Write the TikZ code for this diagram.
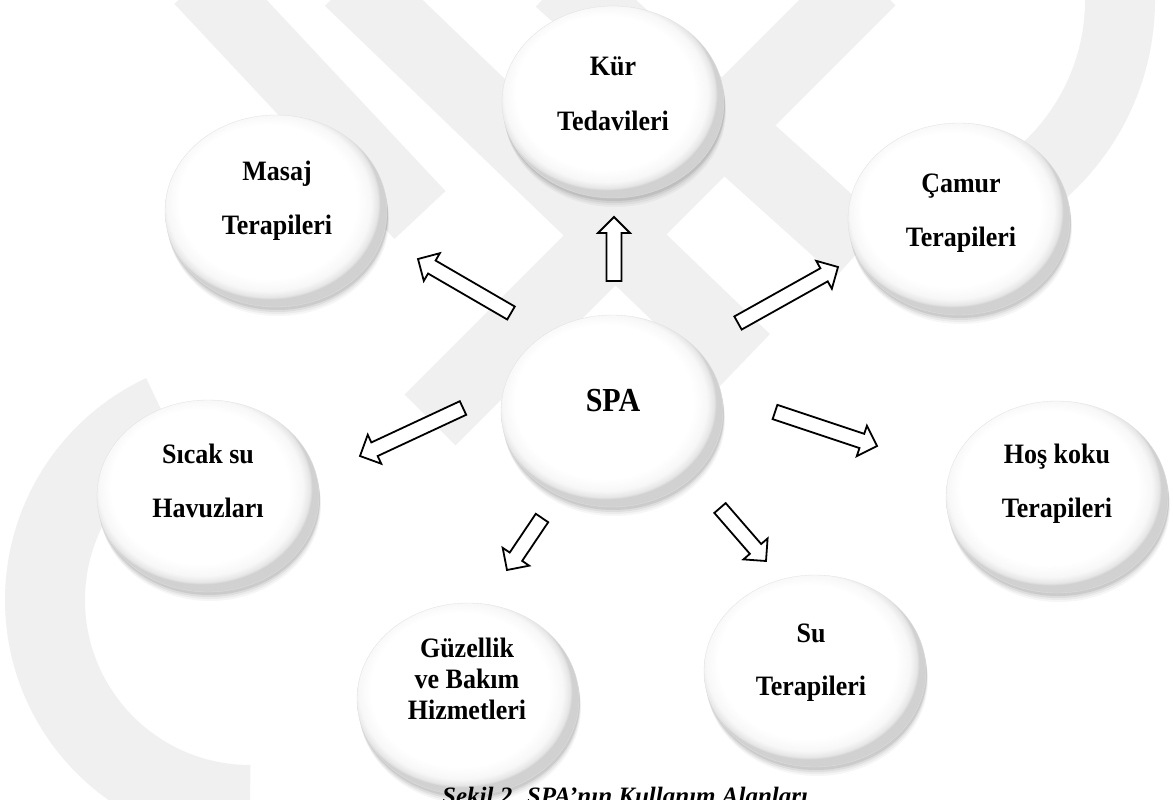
\documentclass[tikz,border=0pt]{standalone}
\usepackage{fontspec}
\setmainfont{Liberation Serif}
\usetikzlibrary{shapes.geometric,shadows,calc}
\pgfdeclareradialshading{btn}{\pgfpoint{-3bp}{4bp}}{color(0bp)=(white); color(20bp)=(white); color(23bp)=(black!3); color(24.5bp)=(black!10); color(25bp)=(black!18); color(50bp)=(black!18)}
\tikzset{
  wm/.style={draw=black!6, line cap=butt},
  bubble/.style={ellipse, minimum width=222pt, minimum height=192pt, inner sep=0pt,
    shading=btn, draw=black!12, line width=0.3pt,
    drop shadow={shadow xshift=2pt, shadow yshift=-9pt, opacity=.035, shadow scale=1.0, fill=black},
    drop shadow={shadow xshift=1.5pt, shadow yshift=-7pt, opacity=.045, fill=black},
    drop shadow={shadow xshift=1pt, shadow yshift=-5pt, opacity=.06, fill=black},
    drop shadow={shadow xshift=1pt, shadow yshift=-3pt, opacity=.08, fill=black}},
  lbl/.style={font=\fontsize{26}{26}\selectfont\bfseries, anchor=base, inner sep=0pt},
  barrow/.style={draw=black, line width=1.8pt, fill=white, line join=miter},
  captxt/.style={font=\fontsize{25}{25}\selectfont\bfseries\itshape, anchor=base west, inner sep=0pt}
}
\newcommand\vs[1]{\scalebox{1}[1.08]{#1}}
\newcommand\blockarr[2]{%
  \path ($(#2)!16pt!(#1)$) coordinate (hb);
  \draw[barrow] ($(#1)!7.5pt!90:(#2)$) -- ($(hb)!7.5pt!90:(#2)$) -- ($(hb)!16pt!90:(#2)$) -- (#2)
     -- ($(hb)!16pt!-90:(#2)$) -- ($(hb)!7.5pt!-90:(#2)$) -- ($(#1)!7.5pt!-90:(#2)$) -- cycle;}
\begin{document}
\begin{tikzpicture}[x=1pt,y=-1pt]
\useasboundingbox (0,0) rectangle (1173,800);
\clip (0,0) rectangle (1173,800);
\fill[white] (0,0) rectangle (1173,800);
% watermark (approximate)
\draw[wm, line width=70pt] (200,-20) -- (420,215);
\draw[wm, line width=72pt] (350,-20) -- (745,360);
\draw[wm, line width=72pt] (560,-20) -- (860,250);
\draw[wm, line width=72pt] (870,-20) -- (430,420);
\draw[wm, line width=80pt] (250,600) ++(90:205) arc[start angle=90, end angle=245, radius=205];
\draw[wm, line width=70pt] (890,0) ++(-5:230) arc[start angle=-5, end angle=80, radius=230];
% bubbles
\node[bubble] (kur) at (613,102) {};
\node[bubble] (mas) at (276,211) {};
\node[bubble] (cam) at (959,219) {};
\node[bubble] (spa) at (612,411) {};
\node[bubble] (sic) at (208,496) {};
\node[bubble] (hos) at (1057,497) {};
\node[bubble] (guz) at (468,699) {};
\node[bubble] (su)  at (815,671) {};
% labels
\node[lbl] (kur1) at (613,75) {\vs{Kür}};
\node[lbl] (kur2) at (613,130) {\vs{Tedavileri}};
\node[lbl] (mas1) at (277,180) {\vs{Masaj}};
\node[lbl] (mas2) at (277,234) {\vs{Terapileri}};
\node[lbl] (cam1) at (961,192) {\vs{Çamur}};
\node[lbl] (cam2) at (961,246) {\vs{Terapileri}};
\node[lbl, font=\fontsize{30}{30}\selectfont\bfseries] (spa1) at (613,411) {\scalebox{1}[1.12]{SPA}};
\node[lbl] (sic1) at (208,463) {\vs{Sıcak su}};
\node[lbl] (sic2) at (208,517) {\vs{Havuzları}};
\node[lbl] (hos1) at (1057,463) {\vs{Hoş koku}};
\node[lbl] (hos2) at (1057,517) {\vs{Terapileri}};
\node[lbl] (guz1) at (467,657) {\vs{Güzellik}};
\node[lbl] (guz2) at (467,688) {\vs{ve Bakım}};
\node[lbl] (guz3) at (467,719) {\vs{Hizmetleri}};
\node[lbl] (su1) at (811,642) {\vs{Su}};
\node[lbl] (su2) at (811,695) {\vs{Terapileri}};
% arrow end points
\coordinate (tKur) at (614,281); \coordinate (hKur) at (614,217);
\coordinate (tMas) at (511,313); \coordinate (hMas) at (418,259);
\coordinate (tCam) at (738,323); \coordinate (hCam) at (838,267);
\coordinate (tSic) at (463,408); \coordinate (hSic) at (360,456);
\coordinate (tHos) at (775,412); \coordinate (hHos) at (877,446);
\coordinate (tSu)  at (720,508); \coordinate (hSu)  at (766,561);
\coordinate (tGuz) at (542,518); \coordinate (hGuz) at (507,570);
\blockarr{tKur}{hKur}
\blockarr{tMas}{hMas}
\blockarr{tCam}{hCam}
\blockarr{tSic}{hSic}
\blockarr{tHos}{hHos}
\blockarr{tSu}{hSu}
\blockarr{tGuz}{hGuz}
% caption (cut by the lower edge, as in the reference)
\node[captxt] (capt) at (442,804) {Şekil 2. SPA'nın Kullanım Alanları};
\end{tikzpicture}
\end{document}
